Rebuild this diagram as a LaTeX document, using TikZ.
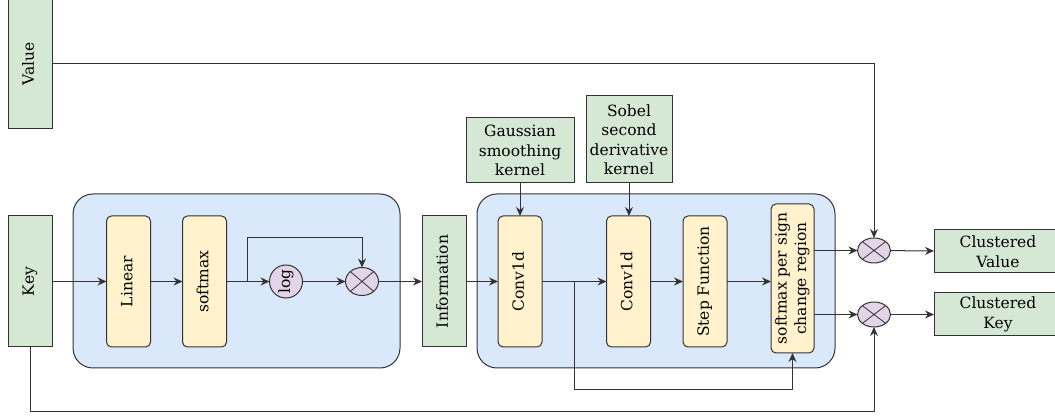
\documentclass[tikz,border=0pt]{standalone}
\usepackage{fontspec}
\setmainfont{DejaVu Serif}
\usetikzlibrary{arrows.meta,shapes.geometric}
\definecolor{inputgreen}{HTML}{D5E8D4}
\definecolor{layeryellow}{HTML}{FFF2CC}
\definecolor{blockblue}{HTML}{DAE8FC}
\definecolor{oppurple}{HTML}{E1D5E7}
\definecolor{edgegray}{HTML}{333333}
\newcommand{\vlabel}[1]{\rotatebox{90}{\begin{tabular}{@{}c@{}}#1\end{tabular}}}

\begin{document}
\begin{tikzpicture}[x=1pt,y=-1pt,
    font=\fontsize{15.5}{19.5}\selectfont,
    every node/.style={inner sep=0pt,outer sep=0pt},
    io/.style={draw=edgegray,fill=inputgreen,line width=1pt,align=center},
    tall/.style={minimum width=44pt,minimum height=131pt},
    layer/.style={draw=edgegray,fill=layeryellow,line width=1pt,rounded corners=5pt,tall},
    block/.style={draw=edgegray,fill=blockblue,line width=1pt,rounded corners=20pt,
                  minimum height=174pt},
    mult/.style={draw=edgegray,fill=oppurple,line width=1pt,ellipse,minimum width=33pt,
                 path picture={\draw[edgegray,line width=0.8pt]
                   (path picture bounding box.north west) -- (path picture bounding box.south east)
                   (path picture bounding box.north east) -- (path picture bounding box.south west);}},
    conn/.style={draw=edgegray,line width=1pt,-{Stealth[length=9pt,width=8pt]}},
    wire/.style={draw=edgegray,line width=1pt}]
  \useasboundingbox (0,0) rectangle (1055,419);

  % blue blocks
  \node[block,minimum width=327pt] (entropy) at (236.5,281) {};
  \node[block,minimum width=358pt] (cluster) at (656,281) {};

  % inputs
  \node[io,tall] (value) at (30,63.5) {\vlabel{Value}};
  \node[io,tall] (key) at (30,281.5) {\vlabel{Key}};

  % first block
  \node[layer] (lin) at (128.5,281.5) {\vlabel{Linear}};
  \node[layer] (soft) at (204.5,281.5) {\vlabel{softmax}};
  \node[draw=edgegray,fill=oppurple,line width=1pt,circle,minimum size=33pt] (log) at (286,281.5) {\rotatebox{90}{log}};
  \node[mult,minimum height=28pt] (m1) at (362,281.5) {};
  \node[io,tall] (info) at (444,281.5) {\vlabel{Information}};

  % second block
  \node[layer] (conva) at (520,281.5) {\vlabel{Conv1d}};
  \node[io,minimum width=108pt,minimum height=65pt] (gauss) at (520,150.5) {Gaussian\\smoothing\\kernel};
  \node[io,minimum width=86pt,minimum height=87pt] (sobel) at (629,139.5) {Sobel\\second\\derivative\\kernel};
  \node[layer] (convb) at (628.5,281.5) {\vlabel{Conv1d}};
  \node[layer] (stepfn) at (705,281.5) {\vlabel{Step Function}};
  \node[layer,minimum width=43pt,minimum height=149pt] (sm) at (792.5,278.5) {\vlabel{softmax per sign\\change region}};

  % outputs
  \node[mult,minimum height=25pt] (mv) at (874,250.5) {};
  \node[mult,minimum height=25pt] (mk) at (874,314.5) {};
  \node[io,minimum width=128pt,minimum height=43pt] (cv) at (998,251.5) {Clustered\\Value};
  \node[io,minimum width=128pt,minimum height=43pt] (ck) at (998,314.5) {Clustered\\Key};

  \coordinate (tap1) at (247,281.5);
  \coordinate (loopup) at (247,238);
  \coordinate (tap2) at (574,281.5);
  \coordinate (loopdown) at (574,390);
  \coordinate (kturn) at (30,412);

  % connectors
  \draw[conn] (key) -- (lin);
  \draw[conn] (lin) -- (soft);
  \draw[conn] (soft) -- (log);
  \draw[conn] (tap1) -- (loopup) -| (m1.north);
  \draw[conn] (log) -- (m1);
  \draw[conn] (m1) -- (info);
  \draw[conn] (info) -- (conva);
  \draw[conn] (gauss.south) -- (gauss.south |- conva.north);
  \draw[conn] (sobel.south) -- (sobel.south |- convb.north);
  \draw[conn] (conva) -- (convb);
  \draw[conn] (tap2) -- (loopdown) -| (sm.south);
  \draw[conn] (convb) -- (stepfn);
  \draw[conn] (stepfn.east) -- (stepfn.east -| sm.west);
  \draw[conn] (sm.east |- mv) -- (mv);
  \draw[conn] (sm.east |- mk) -- (mk);
  \draw[conn] (mv) -- (cv);
  \draw[conn] (mk) -- (ck);
  \draw[conn] (value.east |- value) -| (mv.north);
  \draw[conn] (key.south) -- (kturn) -| (mk.south);
\end{tikzpicture}
\end{document}
